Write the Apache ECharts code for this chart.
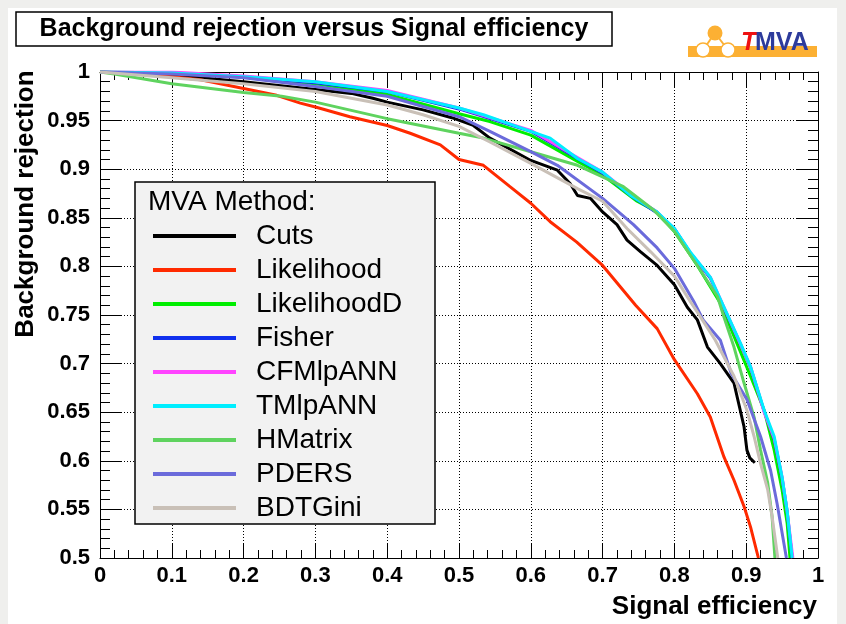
<!DOCTYPE html>
<html>
<head>
<meta charset="utf-8">
<script src="https://cdn.jsdelivr.net/npm/echarts@6/dist/echarts.min.js"></script>
<style>
html,body{margin:0;padding:0;background:#ffffff;}
#chart{width:846px;height:624px;}
</style>
</head>
<body>
<div id="chart"></div>
<script>
// ---------- data (signal efficiency, background rejection) ----------
const methods = ['Cuts','Likelihood','LikelihoodD','Fisher','CFMlpANN','TMlpANN','HMatrix','PDERS','BDTGini'];
const colors  = ['#000000','#ff2a00','#00ee00','#1030ee','#ff44ff','#00eeff','#5fd35f','#6b6bdb','#c9c0b7'];

const cuts = [[0,1],[0.1,0.997],[0.2,0.99],[0.3,0.982],[0.35,0.978],[0.38,0.973],[0.4,0.969],[0.45,0.961],[0.49,0.953],[0.52,0.945],[0.543,0.932],[0.6,0.909],[0.637,0.899],[0.655,0.885],[0.665,0.873],[0.683,0.870],[0.70,0.856],[0.72,0.843],[0.734,0.827],[0.753,0.815],[0.776,0.801],[0.80,0.781],[0.818,0.758],[0.832,0.745],[0.846,0.717],[0.864,0.700],[0.883,0.680],[0.897,0.635],[0.901,0.611],[0.905,0.603],[0.912,0.598]];
const likelihood = [[0,1],[0.05,0.998],[0.1,0.995],[0.14,0.992],[0.2,0.983],[0.246,0.976],[0.279,0.968],[0.3,0.964],[0.348,0.954],[0.4,0.945],[0.432,0.937],[0.474,0.925],[0.5,0.91],[0.534,0.904],[0.571,0.882],[0.6,0.865],[0.627,0.846],[0.664,0.825],[0.70,0.801],[0.746,0.760],[0.776,0.736],[0.80,0.704],[0.832,0.669],[0.85,0.645],[0.869,0.604],[0.883,0.580],[0.897,0.553],[0.906,0.532],[0.917,0.50]];
const likelihoodD = [[0,1],[0.1,0.999],[0.2,0.995],[0.3,0.988],[0.4,0.977],[0.5,0.957],[0.543,0.949],[0.6,0.935],[0.665,0.908],[0.70,0.894],[0.748,0.867],[0.776,0.856],[0.80,0.836],[0.832,0.801],[0.85,0.779],[0.864,0.762],[0.887,0.721],[0.906,0.687],[0.925,0.652],[0.939,0.611],[0.95,0.570],[0.957,0.536],[0.961,0.50]];
const fisher = [[0,1],[0.1,0.999],[0.2,0.995],[0.3,0.989],[0.4,0.980],[0.5,0.962],[0.6,0.939],[0.665,0.911],[0.70,0.896],[0.739,0.873],[0.776,0.855],[0.80,0.839],[0.822,0.814],[0.85,0.788],[0.869,0.757],[0.892,0.720],[0.906,0.696],[0.925,0.651],[0.939,0.622],[0.95,0.582],[0.957,0.548],[0.964,0.50]];
const cfmlpann = [[0,1],[0.1,1.0],[0.2,0.996],[0.3,0.990],[0.4,0.981],[0.5,0.963],[0.6,0.940],[0.665,0.912],[0.70,0.897],[0.739,0.874],[0.776,0.856],[0.80,0.838],[0.822,0.814],[0.85,0.789],[0.869,0.758],[0.892,0.720],[0.906,0.697],[0.925,0.650],[0.939,0.623],[0.95,0.583],[0.957,0.548],[0.965,0.50]];
const tmlpann = [[0,1],[0.1,0.999],[0.2,0.995],[0.3,0.990],[0.4,0.980],[0.5,0.963],[0.534,0.956],[0.6,0.939],[0.627,0.932],[0.665,0.911],[0.70,0.897],[0.739,0.873],[0.776,0.856],[0.80,0.839],[0.822,0.815],[0.85,0.789],[0.869,0.758],[0.892,0.721],[0.906,0.697],[0.925,0.652],[0.939,0.625],[0.95,0.583],[0.957,0.549],[0.964,0.50]];
const hmatrix = [[0,1],[0.02,0.998],[0.1,0.988],[0.2,0.979],[0.253,0.975],[0.3,0.969],[0.4,0.952],[0.5,0.937],[0.534,0.932],[0.6,0.918],[0.665,0.904],[0.70,0.892],[0.729,0.882],[0.771,0.858],[0.80,0.836],[0.83,0.803],[0.86,0.769],[0.869,0.748],[0.883,0.717],[0.897,0.680],[0.911,0.645],[0.92,0.611],[0.93,0.577],[0.936,0.543],[0.94,0.50]];
const pders = [[0,1],[0.1,0.998],[0.2,0.994],[0.3,0.985],[0.4,0.975],[0.5,0.954],[0.543,0.939],[0.6,0.918],[0.637,0.904],[0.70,0.870],[0.743,0.843],[0.776,0.819],[0.80,0.798],[0.827,0.764],[0.84,0.745],[0.864,0.724],[0.879,0.690],[0.901,0.663],[0.92,0.625],[0.934,0.590],[0.943,0.556],[0.956,0.50]];
const bdtgini = [[0,1],[0.1,0.994],[0.2,0.988],[0.3,0.980],[0.4,0.966],[0.45,0.956],[0.5,0.944],[0.543,0.928],[0.6,0.906],[0.665,0.880],[0.70,0.867],[0.734,0.839],[0.767,0.815],[0.80,0.790],[0.822,0.764],[0.832,0.753],[0.857,0.724],[0.883,0.687],[0.901,0.652],[0.911,0.625],[0.92,0.597],[0.93,0.570],[0.936,0.543],[0.944,0.50]];

const curves = [cuts, likelihood, likelihoodD, fisher, cfmlpann, tmlpann, hmatrix, pders, bdtgini];

const titleText = 'Background rejection versus Signal efficiency';
const xTitle = 'Signal efficiency';
const yTitle = 'Background rejection';
const legendHeader = 'MVA Method:';

// ---------- chart ----------
const FF = '"Liberation Sans", Arial, Helvetica, sans-serif';
const chart = echarts.init(document.getElementById('chart'), null, {renderer: 'canvas'});

function axisCommon(isX, pos, showLabels) {
  return {
    type: 'value',
    position: pos,
    min: isX ? 0 : 0.5,
    max: 1,
    interval: isX ? 0.1 : 0.05,
    axisLine: {show: true, onZero: false, lineStyle: {color: '#000', width: 1}},
    axisTick: {show: true, inside: true, length: isX ? 15 : 21, lineStyle: {color: '#000', width: 1}},
    minorTick: {show: true, splitNumber: 5, length: isX ? 8 : 10, lineStyle: {color: '#000', width: 1}},
    splitLine: {show: showLabels, lineStyle: {color: '#000', width: 1, type: [1, 2]}},
    minorSplitLine: {show: false},
    axisLabel: showLabels ? {
      show: true, color: '#000', fontFamily: FF, fontWeight: 'bold', fontSize: 22,
      margin: isX ? 7 : 10
    } : {show: false}
  };
}

const orange = '#fcb033';

const option = {
  backgroundColor: '#ffffff',
  animation: false,
  grid: {left: 100, top: 72, right: 28, bottom: 66, show: false},
  xAxis: [axisCommon(true, 'bottom', true), axisCommon(true, 'top', false)],
  yAxis: [axisCommon(false, 'left', true), axisCommon(false, 'right', false)],
  legend: {
    data: methods,
    orient: 'vertical',
    left: 153,
    top: 219,
    icon: 'rect',
    itemWidth: 83,
    itemHeight: 4,
    itemGap: 0,
    padding: 0,
    z: 20,
    selectedMode: false,
    textStyle: {fontFamily: FF, fontSize: 28, color: '#000', lineHeight: 34, padding: [0, 0, 0, 15]}
  },
  series: methods.map((m, i) => ({
    name: m,
    type: 'line',
    data: curves[i],
    xAxisIndex: 0,
    yAxisIndex: 0,
    showSymbol: false,
    symbol: 'none',
    clip: true,
    lineStyle: {width: 3, color: colors[i]},
    itemStyle: {color: colors[i]}
  })),
  graphic: [
    // grey margins of the canvas
    {type: 'rect', shape: {x: 0, y: 0, width: 846, height: 8}, style: {fill: '#efefed'}, z: 1},
    {type: 'rect', shape: {x: 0, y: 0, width: 8, height: 624}, style: {fill: '#efefed'}, z: 1},
    {type: 'rect', shape: {x: 837, y: 0, width: 9, height: 624}, style: {fill: '#efefed'}, z: 1},
    // title box
    {type: 'rect', shape: {x: 16, y: 12, width: 596, height: 34}, style: {fill: '#fff', stroke: '#000', lineWidth: 1.5}, z: 5},
    {type: 'text', x: 314, y: 29, z: 6,
      style: {text: titleText, fill: '#000', font: 'bold 25px ' + FF, textAlign: 'center', textVerticalAlign: 'middle'}},
    // TMVA logo
    {type: 'rect', shape: {x: 688, y: 46, width: 129, height: 11}, style: {fill: orange}, z: 5},
    {type: 'line', shape: {x1: 715, y1: 33, x2: 703, y2: 50}, style: {stroke: orange, lineWidth: 2}, z: 5},
    {type: 'line', shape: {x1: 715, y1: 33, x2: 728, y2: 50}, style: {stroke: orange, lineWidth: 2}, z: 5},
    {type: 'circle', shape: {cx: 715, cy: 33, r: 7.5}, style: {fill: orange}, z: 6},
    {type: 'circle', shape: {cx: 703, cy: 50, r: 7}, style: {fill: '#fff', stroke: orange, lineWidth: 1.5}, z: 6},
    {type: 'circle', shape: {cx: 728, cy: 50, r: 7}, style: {fill: '#fff', stroke: orange, lineWidth: 1.5}, z: 6},
    {type: 'text', x: 741, y: 43, z: 7,
      style: {text: 'T', fill: '#ee1111', font: 'italic bold 25px ' + FF, textAlign: 'left', textVerticalAlign: 'middle'}},
    {type: 'text', x: 755, y: 43, z: 7,
      style: {text: 'MVA', fill: '#2d3b9c', font: 'bold 25px ' + FF, textAlign: 'left', textVerticalAlign: 'middle'}},
    // legend box and header
    {type: 'rect', shape: {x: 135, y: 182, width: 300, height: 342}, style: {fill: '#f2f2f2', stroke: '#000', lineWidth: 1.5}, z: 10},
    {type: 'text', x: 148, y: 202, z: 11,
      style: {text: legendHeader, fill: '#000', font: '28px ' + FF, textAlign: 'left', textVerticalAlign: 'middle'}},
    // axis titles
    {type: 'text', x: 817, y: 607, z: 5,
      style: {text: xTitle, fill: '#000', font: 'bold 26px ' + FF, textAlign: 'right', textVerticalAlign: 'middle'}},
    {type: 'text', x: 26, y: 204, rotation: Math.PI / 2, z: 5,
      style: {text: yTitle, fill: '#000', font: 'bold 26px ' + FF, textAlign: 'center', textVerticalAlign: 'middle'}}
  ]
};

chart.setOption(option);
</script>
</body>
</html>
